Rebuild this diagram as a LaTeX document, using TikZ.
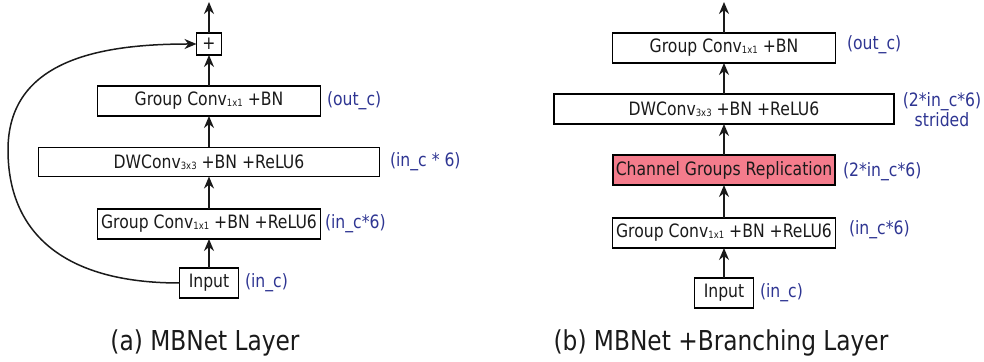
\documentclass[tikz,border=0pt]{standalone}
\usepackage{fontspec}
\setmainfont{DejaVu Sans}[FakeStretch=0.85]
\usetikzlibrary{arrows.meta}

\definecolor{labelblue}{HTML}{2E3592}
\definecolor{replred}{HTML}{F47C8C}
\definecolor{textgray}{HTML}{1A1A1A}
\newcommand{\ksz}[1]{\raisebox{-0.1ex}{\fontsize{5}{5}\selectfont #1}}

\begin{document}
\begin{tikzpicture}[x=0.5pt,y=-0.5pt,
  every node/.style={inner sep=0pt, outer sep=0pt, text=textgray, font=\fontsize{9.2}{10}\selectfont},
  layer/.style={draw, line width=0.75pt, minimum height=15pt},
  chan/.style={text=labelblue, anchor=west},
  flow/.style={-{Stealth[length=6pt,width=5pt]}, line width=0.75pt, draw=textgray},
  caption/.style={font=\fontsize{13.7}{15}\selectfont}]
\useasboundingbox (0,0) rectangle (984,362);

% (a) MBNet layer
\node[layer, minimum width=12.5pt, minimum height=11pt] (plus) at (209,44) {+};
\node[layer, minimum width=111.5pt] (gc1) at (209,101) {Group Conv\ksz{1x1} +BN};
\node[layer, minimum width=170.5pt, minimum height=14.5pt] (dw) at (209,162) {DWConv\ksz{3x3} +BN +ReLU6};
\node[layer, minimum width=111.5pt] (gc6) at (209,224) {Group Conv\ksz{1x1} +BN +ReLU6};
\node[layer, minimum width=29.5pt] (in) at (209,283) {Input};
\coordinate (outa) at (209,2);

\node[chan] (lgc1) at (327,101) {(out\_c)};
\node[chan] (ldw) at (390,162) {(in\_c * 6)};
\node[chan] (lgc6) at (325,224) {(in\_c*6)};
\node[chan] (lin) at (245,283) {(in\_c)};

\draw[flow] (in) -- (gc6);
\draw[flow] (gc6) -- (dw);
\draw[flow] (dw) -- (gc1);
\draw[flow] (gc1) -- (plus);
\draw[flow] (plus) -- (outa);
\draw[flow] (in.west) .. controls (60,283) and (8,230) .. (8,150)
  .. controls (8,60) and (100,44) .. (plus.west);

\node[caption] (capa) at (205,343) {(a) MBNet Layer};

% (b) MBNet + branching layer
\node[layer, minimum width=111.5pt] (gcb) at (724,48) {Group Conv\ksz{1x1} +BN};
\node[layer, minimum width=170pt] (dwb) at (724,109) {DWConv\ksz{3x3} +BN +ReLU6};
\node[layer, fill=replred, minimum width=111pt] (rep) at (724,170) {Channel Groups Replication};
\node[layer, minimum width=111.5pt] (gc6b) at (724,233) {Group Conv\ksz{1x1} +BN +ReLU6};
\node[layer, minimum width=29.5pt] (inb) at (724,293) {Input};
\coordinate (outb) at (724,2);

\node[chan] (lgcb) at (847,45) {(out\_c)};
\node[text=labelblue, align=center] (ldwb) at (942,110) {(2*in\_c*6)\\strided};
\node[chan] (lrep) at (843,172) {(2*in\_c*6)};
\node[chan] (lgc6b) at (849,230) {(in\_c*6)};
\node[chan] (linb) at (760,293) {(in\_c)};

\draw[flow] (inb) -- (gc6b);
\draw[flow] (gc6b) -- (rep);
\draw[flow] (rep) -- (dwb);
\draw[flow] (dwb) -- (gcb);
\draw[flow] (gcb) -- (outb);

\node[caption] (capb) at (721,343) {(b) MBNet +Branching Layer};
\end{tikzpicture}
\end{document}
